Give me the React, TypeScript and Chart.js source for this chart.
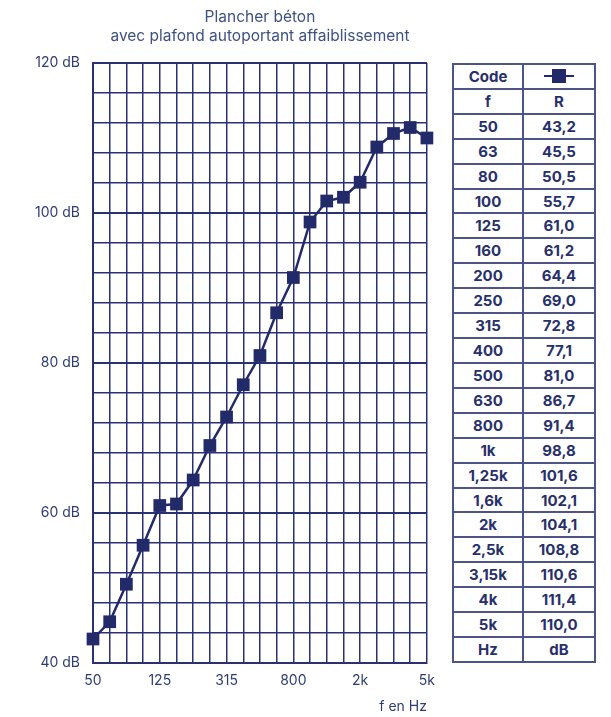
import React, { useEffect, useRef } from 'react';
import { Chart, registerables } from 'chart.js';

Chart.register(...registerables);

const titleLines = ['Plancher béton', 'avec plafond autoportant affaiblissement'];
const frequencies = ['50', '63', '80', '100', '125', '160', '200', '250', '315', '400', '500', '630', '800', '1k', '1,25k', '1,6k', '2k', '2,5k', '3,15k', '4k', '5k'];
const rValues = [43.2, 45.5, 50.5, 55.7, 61.0, 61.2, 64.4, 69.0, 72.8, 77.1, 81.0, 86.7, 91.4, 98.8, 101.6, 102.1, 104.1, 108.8, 110.6, 111.4, 110.0];
const xTickLabels = ['50', '125', '315', '800', '2k', '5k'];
const yMajorTicks = [40, 60, 80, 100, 120];
const xAxisTitle = 'f en Hz';
const tableHeader = ['Code', '', 'f', 'R'];
const tableFooter = ['Hz', 'dB'];

const NAVY = '#232a69';
const GRID = '#2a3170';
const TEXT = '#2f3c72';
const TABLE_BORDER = '#4d5488';

function fmt(v: number) {
  return v.toFixed(1).replace('.', ',');
}

function Marker() {
  return (
    <div style={{ position: 'relative', width: 30, height: 14 }}>
      <div style={{ position: 'absolute', left: 0, right: 0, top: 6, height: 2, background: NAVY }} />
      <div style={{ position: 'absolute', left: 8, top: 0, width: 14, height: 14, background: NAVY }} />
    </div>
  );
}

export default function App() {
  const ref = useRef<HTMLCanvasElement | null>(null);

  useEffect(() => {
    if (!ref.current) return;
    const chart = new Chart(ref.current, {
      type: 'line',
      data: {
        labels: frequencies,
        datasets: [
          {
            data: rValues,
            borderColor: NAVY,
            backgroundColor: NAVY,
            borderWidth: 2.5,
            pointStyle: 'rect',
            pointRadius: 9,
            pointBorderWidth: 0,
            pointBackgroundColor: NAVY,
            tension: 0,
          },
        ],
      },
      options: {
        animation: false,
        responsive: false,
        layout: { padding: { left: 0, right: 7, top: 0, bottom: 0 } },
        plugins: {
          legend: { display: false },
          tooltip: { enabled: false },
          title: {
            display: true,
            fullSize: false,
            text: titleLines,
            color: '#3d5182',
            font: { family: 'Inter', size: 15.5, weight: 'normal', lineHeight: 19 / 15.5 },
            padding: { top: 8, bottom: 17 },
          },
        },
        scales: {
          x: {
            type: 'category',
            offset: false,
            afterFit: (scale: any) => {
              scale.height = 54;
            },
            grid: {
              color: GRID,
              lineWidth: 1.5,
              drawTicks: false,
            },
            border: { display: true, color: GRID, width: 2 },
            ticks: {
              autoSkip: false,
              maxRotation: 0,
              padding: 9,
              color: TEXT,
              font: { family: 'Inter', size: 14 },
              callback: function (this: any, value: any) {
                const lab = this.getLabelForValue(value);
                return xTickLabels.includes(lab) ? lab : '';
              },
            },
            title: {
              display: true,
              text: xAxisTitle,
              align: 'end',
              color: TEXT,
              font: { family: 'Inter', size: 14 },
              padding: { top: 0, bottom: 2 },
            },
          },
          y: {
            min: 40,
            max: 120,
            afterFit: (scale: any) => {
              scale.width = 93;
            },
            grid: {
              color: GRID,
              lineWidth: (ctx: any) => (yMajorTicks.includes(ctx.tick?.value) ? 2 : 1.5),
              drawTicks: false,
            },
            border: { display: true, color: GRID, width: 2 },
            ticks: {
              stepSize: 4,
              autoSkip: false,
              padding: 13,
              color: TEXT,
              font: { family: 'Inter', size: 14 },
              callback: (value: any) => (yMajorTicks.includes(Number(value)) ? `${value} dB` : ''),
            },
          },
        },
      },
    } as any);
    return () => chart.destroy();
  }, []);

  const cell: React.CSSProperties = {
    background: '#fff',
    display: 'flex',
    alignItems: 'center',
    justifyContent: 'center',
    fontFamily: 'Inter',
    fontWeight: 700,
    fontSize: 15,
    color: '#28306a',
  };

  const cells: React.ReactNode[] = [];
  cells.push(<div key="h0" style={cell}>{tableHeader[0]}</div>);
  cells.push(<div key="h1" style={cell}><Marker /></div>);
  cells.push(<div key="h2" style={cell}>{tableHeader[2]}</div>);
  cells.push(<div key="h3" style={cell}>{tableHeader[3]}</div>);
  frequencies.forEach((f, i) => {
    cells.push(<div key={'f' + i} style={cell}>{f}</div>);
    cells.push(<div key={'v' + i} style={cell}>{fmt(rValues[i])}</div>);
  });
  cells.push(<div key="u0" style={cell}>{tableFooter[0]}</div>);
  cells.push(<div key="u1" style={cell}>{tableFooter[1]}</div>);

  return (
    <div style={{ position: 'fixed', left: 0, top: 0, width: 611, height: 717, background: '#fff', overflow: 'hidden' }}>
      <canvas ref={ref} width={444} height={717} style={{ position: 'absolute', left: 0, top: 0 }} />
      <div
        style={{
          position: 'absolute',
          left: 452,
          top: 63,
          width: 144,
          height: 600,
          boxSizing: 'border-box',
          padding: 2,
          background: TABLE_BORDER,
          display: 'grid',
          gridTemplateColumns: '68px 70px',
          gridTemplateRows: 'repeat(24, 1fr)',
          gap: 2,
        }}
      >
        {cells}
      </div>
    </div>
  );
}
